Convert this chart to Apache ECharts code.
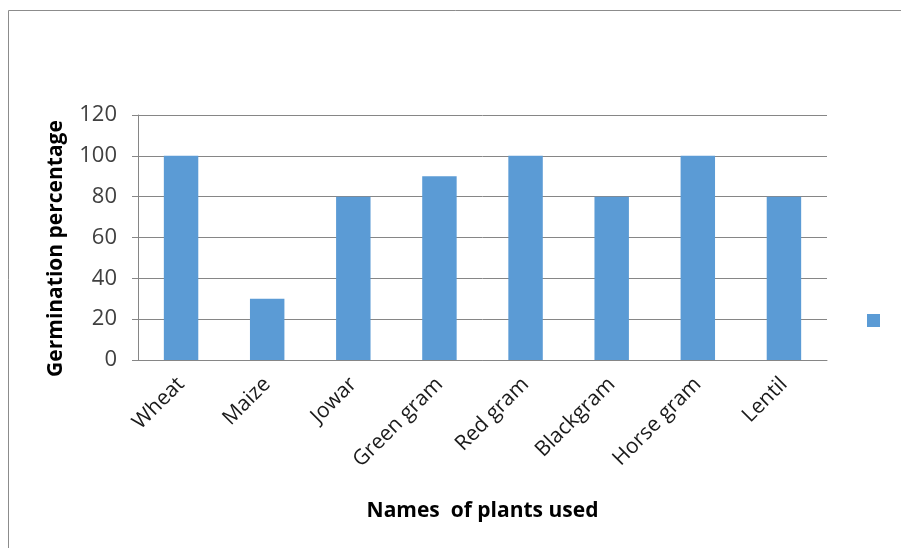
<!DOCTYPE html>
<html>
<head>
<meta charset="utf-8">
<script src="https://cdn.jsdelivr.net/npm/echarts@6/dist/echarts.min.js"></script>
<style>
  html, body { margin: 0; padding: 0; background: #fff; }
  #myChart { width: 901px; height: 548px; }
</style>
</head>
<body>
<div id="myChart"></div>
<script>
// plant names on the x axis
const plants = ['Wheat', 'Maize', 'Jowar', 'Green gram', 'Red gram', 'Blackgram', 'Horse gram', 'Lentil'];
// germination percentage per plant
const germination = [100, 30, 80, 90, 100, 80, 100, 80];
// y axis range
const yMin = 0;
const yMax = 120;
const yStep = 20;

const fontName = 'Open Sans';

let option = {
  animation: false,
  graphic: [
    {
      type: 'rect',
      shape: {x: 8.5, y: 10.5, width: 1000, height: 1000},
      style: {fill: 'none', stroke: '#8c8c8c', lineWidth: 1}
    }
  ],
  legend: {
    left: 862,
    top: 309,
    itemWidth: 13,
    itemHeight: 13,
    icon: 'rect',
    formatter: () => '',
    data: [' ']
  },
  grid: {
    left: 138,
    right: 74,
    top: 115,
    bottom: 188
  },
  xAxis: {
    type: 'category',
    data: plants,
    name: 'Names  of plants used',
    nameLocation: 'middle',
    nameGap: 141,
    nameTextStyle: {
      fontFamily: fontName,
      fontWeight: 'bold',
      fontSize: 21,
      color: '#000'
    },
    axisLine: {lineStyle: {color: '#868686'}},
    axisTick: {show: false},
    axisLabel: {
      rotate: 45,
      interval: 0,
      margin: 21,
      fontFamily: fontName,
      fontSize: 21,
      color: '#1a1a1a'
    }
  },
  yAxis: {
    type: 'value',
    min: yMin,
    max: yMax,
    interval: yStep,
    name: 'Germination percentage',
    nameLocation: 'middle',
    nameGap: 71,
    nameTextStyle: {
      fontFamily: fontName,
      fontWeight: 'bold',
      fontSize: 21,
      color: '#000',
      padding: [0, 22, 0, 0]
    },
    axisLine: {show: true, lineStyle: {color: '#868686'}},
    axisTick: {show: true, length: 6, lineStyle: {color: '#868686'}},
    splitLine: {lineStyle: {color: '#868686'}},
    axisLabel: {
      margin: 21,
      fontFamily: fontName,
      fontSize: 22,
      color: '#404040'
    }
  },
  series: [
    {
      name: ' ',
      type: 'bar',
      data: germination,
      barCategoryGap: '60%',
      itemStyle: {color: '#5B9BD5'}
    }
  ]
};

const myChart = echarts.init(document.getElementById('myChart'));
myChart.setOption(option);
</script>
</body>
</html>
